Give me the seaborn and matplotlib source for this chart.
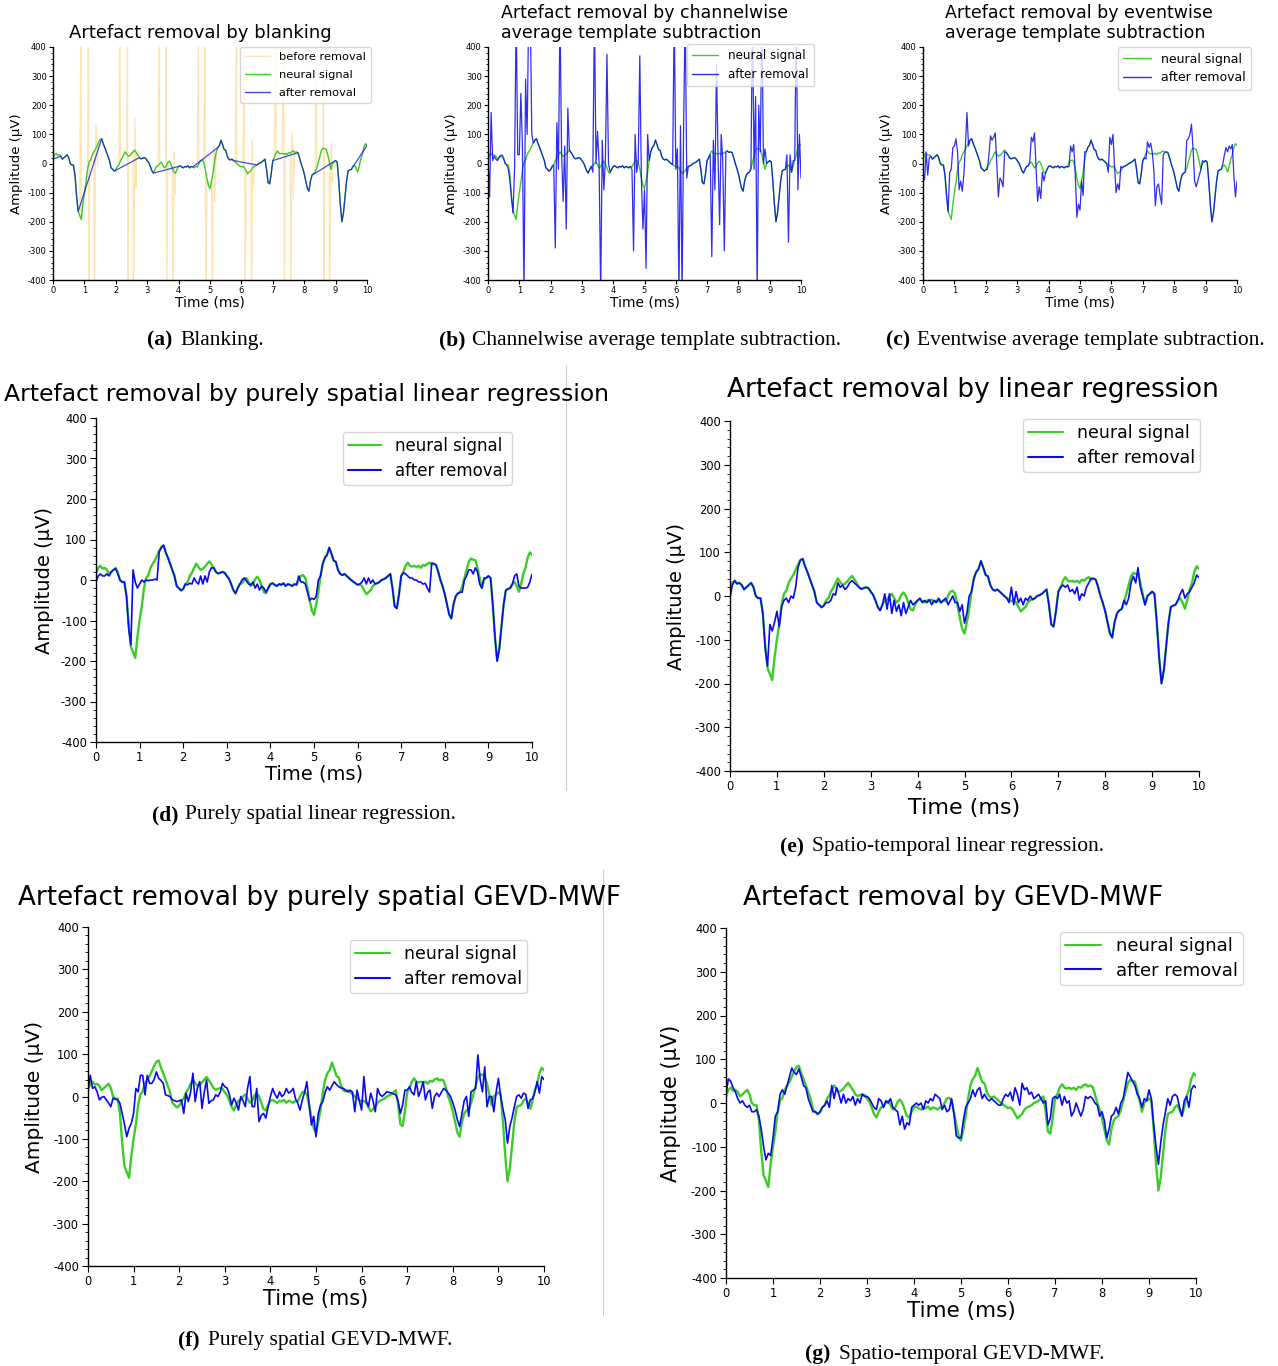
import numpy as np
import seaborn as sns
import matplotlib.pyplot as plt
from matplotlib.ticker import MultipleLocator
from matplotlib.lines import Line2D

# neural signal (µV), one sample every 0.05 ms from 0 to 10 ms
neural = [
    15, 30, 35, 28, 30, 25, 15, 20, 25, 30, 20, 0, -5, -5, -40, -110, -165, -178, -192, -140,
    -100, -65, -20, 5, 12, 30, 40, 48, 60, 72, 82, 85, 68, 55, 40, 25, 10, -15, -20, -26,
    -22, -10, -5, 10, 18, 30, 40, 32, 25, 28, 33, 40, 46, 38, 30, 20, 16, 18, 20, 18,
    10, 3, -10, -25, -33, -20, -10, -8, 0, 5, -5, -15, -10, 2, 8, 0, -15, -30, -33, -20,
    -10, -8, -12, -15, -10, -12, -8, -15, -10, -12, -15, -10, -12, 0, 10, 12, 5, -20, -50, -75,
    -86, -60, -30, 10, 40, 55, 62, 80, 65, 48, 45, 25, 15, 12, 15, 10, 5, 0, -4, -8,
    -12, -10, -15, -25, -35, -30, -25, -15, -10, -8, -5, 0, 2, 5, 10, 15, -20, -65, -70, -35,
    10, 20, 35, 43, 35, 33, 35, 32, 35, 30, 37, 35, 40, 43, 38, 40, 37, 20, 0, -16,
    -35, -60, -85, -95, -60, -40, -33, -30, -16, 5, 25, 45, 53, 50, 49, 30, 5, -20, 0, 5,
    10, 5, -60, -140, -200, -170, -115, -60, -25, -22, -20, -10, -5, -15, -29, -10, 15, 30, 55, 68,
    62,
]

# (a) blanking: time windows (ms) that are cut out and bridged
blank_windows = [(0.0, 0.25), (0.82, 1.52), (1.97, 2.72), (3.22, 3.98), (4.48, 5.22),
                 (5.78, 6.48), (7.02, 7.76), (8.28, 8.98), (9.52, 10.0)]

# (a) stimulation artefact pulses in the recording before removal
art_first = [0.89, 2.13, 3.39, 4.63, 5.85, 7.10, 8.37]
art_second = [1.13, 2.37, 3.60, 4.85, 6.10, 7.35, 8.61]
art_third = [1.32, 2.56, 3.83, 5.08, 6.33, 7.57, 8.80]
art_tail = [1.37, 2.61, 3.86, 5.11, 6.35, 7.61, 8.86]
art_tail_hi = [135, 155, 40, 65, 80, 105, 70]
art_tail_lo = [-10, -80, -105, -130, -80, -120, -65]
art_peak = 600

# (b) channelwise average template subtraction, after removal
after_b = [
    20, -115, 175, 10, 25, 15, 10, 20, 28, 25, 15, 0, -5, -20, -60, -120, -170, -10, 520, 30,
    30, 240, 60, -450, 290, 100, 520, 520, 100, 70, 80, 85, 68, 55, 40, 25, 10, -15, -20, -26,
    -22, -10, -5, -290, 140, -20, 520, 40, -130, 60, -225, 190, 46, 38, 30, 20, 16, 18, 20, 18,
    10, 3, -10, -25, -33, -20, -10, -30, 520, 0, 110, 0, -450, 80, -90, 10, 375, 0, -30, -20,
    -10, -8, -12, -15, -10, -12, -8, -15, -10, -12, -15, -10, -20, -300, 100, -30, 10, 370, -50, -225,
    -90, -360, 100, 10, 40, 55, 62, 80, 65, 48, 45, 25, 15, 12, 15, 10, 5, 0, -4, 520,
    -20, 50, -450, 130, -450, 130, 520, -50, -10, -8, -5, 0, 2, 5, 10, 15, -20, -65, -70, -35,
    10, 20, 30, -320, 80, -90, 340, 20, -210, 100, 10, -300, 40, 43, 38, 40, 37, 20, 0, -16,
    -35, -60, -85, -95, -60, -40, -33, -30, -20, 520, -20, 230, -450, 200, 40, 520, 0, 50, 0, 5,
    10, 5, -60, -140, -200, -170, -115, -60, -25, -22, -20, 30, -270, 30, -30, 10, 10, 520, -90, 100,
    -50,
]

# (c) eventwise average template subtraction, after removal
after_c = [
    -60, -55, 40, -40, 20, 25, 15, 20, 25, 30, 20, 0, -5, -5, -40, -110, -165, -30, -20, 55,
    60, 85, 40, -90, -60, -95, -40, 60, 175, 60, 80, 85, 68, 55, 40, 25, 10, -15, -20, -26,
    -22, -20, 30, 95, 80, 90, 105, 0, -115, -50, -60, -80, 40, 38, 30, 20, 16, 18, 20, 18,
    10, 3, -10, -25, -33, -20, -10, -8, 5, 90, 75, 105, -10, -130, -80, -120, -30, -60, -33, -20,
    -10, -8, -12, -15, -10, -12, -8, -15, -10, -12, -15, -10, -12, -10, 60, 40, 65, -40, -185, -140,
    -160, -60, -110, 40, 40, 55, 62, 80, 65, 48, 45, 25, 15, 12, 15, 10, 5, 0, -30, 90,
    65, 100, -10, -100, -70, -90, -10, -15, -10, -8, -5, 0, 2, 5, 10, 15, -20, -65, -70, -35,
    10, 20, 15, 75, 55, 70, 40, -20, -145, -80, -70, -110, -140, 30, 38, 40, 37, 20, 0, -16,
    -35, -60, -85, -95, -60, -40, -33, -30, 80, 85, 100, 135, 50, -60, -80, -60, -40, -20, 10, 5,
    10, 5, -60, -140, -200, -170, -115, -60, -25, -22, -20, 0, 30, 55, 40, 60, 50, 65, -40, -115,
    -60,
]

# (d) purely spatial linear regression, after removal
after_d = [
    -5, 10, 15, 10, 10, 15, 10, 20, 25, 28, 15, 0, -5, -5, -40, -120, -160, 25, -5, -20,
    -10, 0, -5, 0, -2, 0, 0, 2, 0, 70, 80, 86, 68, 55, 40, 25, 10, -15, -20, -26,
    -22, -10, -12, -8, -10, 5, -5, -10, 10, -10, 10, -5, 20, 30, 30, 20, 16, 18, 20, 18,
    10, 3, -10, -25, -33, -20, -10, 0, 5, -2, -10, -12, -5, -20, -10, -25, -15, -20, -30, -20,
    -10, -8, -12, -15, -10, -12, -8, -15, -10, -12, -15, -10, -12, 10, -5, -5, -10, -30, -50, -45,
    -48, -40, 0, 10, 40, 55, 62, 80, 65, 48, 45, 25, 15, 12, 15, 10, 5, 0, -4, -8,
    -12, -10, -5, 5, -10, 5, -8, 0, -10, -8, -5, 0, 2, 5, 10, 15, -20, -65, -70, -35,
    10, 18, 15, 10, 5, 5, 0, 0, -5, -5, -10, -8, -20, -30, 42, 40, 37, 20, 0, -16,
    -35, -60, -85, -95, -60, -40, -33, -30, -30, 0, 10, 25, 25, 15, 30, 20, -10, -20, 5, 5,
    10, 5, -60, -140, -200, -170, -115, -60, -25, -22, -20, -10, 10, 15, -15, -20, -20, -20, -18, -5,
    14,
]

# (e) spatio-temporal linear regression, after removal
after_e = [
    -5, 25, 35, 28, 30, 25, 15, 20, 25, 30, 20, 0, -5, -5, -40, -120, -160, -65, -80, -60,
    -35, -70, -25, -10, -5, -15, 0, -5, 20, 65, 82, 85, 68, 55, 40, 25, 10, -15, -20, -26,
    -22, -15, -15, -10, 5, 2, 30, 20, 25, 15, 20, 30, 35, 30, 25, 20, 16, 18, 20, 18,
    10, 3, -10, -25, -33, -20, 5, -30, 5, -40, -10, -35, -20, -45, -15, -40, -25, -10, -20, -15,
    -10, -5, -15, -10, -15, -8, -20, -10, -15, -5, -15, -10, -5, -20, -10, 0, -15, -15, -35, -20,
    -62, -40, 0, 10, 40, 55, 62, 80, 65, 48, 45, 25, 15, 12, 15, 10, 5, 0, -5, -15,
    20, -20, 10, -15, -5, -20, -5, -10, 0, -8, -5, 0, 2, 5, 10, 15, -20, -65, -70, -35,
    10, 20, 25, 20, 25, 10, 15, 5, 20, -10, 5, 0, 20, 30, 40, 40, 37, 20, 0, -16,
    -35, -60, -85, -95, -60, -40, -33, -30, -10, -20, -5, 30, 45, 30, 65, 20, 0, -20, 0, 5,
    10, 5, -60, -140, -200, -170, -115, -60, -25, -22, -20, -10, 5, 15, -5, 5, 10, 20, 30, 48,
    42,
]

# (f) purely spatial GEVD-MWF, after removal
after_f = [
    15, 50, 19, 23, 11, -8, -2, 0, -8, -15, -24, -4, -6, -8, -16, -40, -65, -95, -75, -63,
    -40, 19, 11, 50, 50, 4, 50, 31, 31, 40, 58, 43, 38, 31, 4, 2, 0, -8, -10, -12,
    -10, -8, -40, 8, -12, 10, 55, -12, 20, 35, -28, 10, 39, -16, -10, -8, 4, 0, 10, 31,
    23, 20, 5, -20, -4, -15, -32, 0, -10, -24, 20, 47, -24, -24, 19, -59, -45, -40, -51, -24,
    0, 19, 5, -4, 11, 0, 5, 19, 8, 12, 19, -5, -16, -32, -8, 10, 35, -20, -67, -47,
    -95, -40, -20, -12, 10, 23, 15, 25, 35, 28, 23, 20, 19, 15, 11, 15, 10, -36, 15, -10,
    -32, 47, -10, -24, 8, -10, -36, 19, 5, 0, 5, 11, 10, 8, 6, 4, -10, -40, -20, 15,
    15, 23, 10, 4, 35, 0, 15, 35, -8, 10, 15, -28, 0, 8, 0, 10, 19, 15, 8, 0,
    -15, -32, -55, -71, -40, -10, 0, -47, 11, 15, 19, 98, 40, 11, 70, -24, 0, 0, -36, 10,
    43, 0, -30, -55, -110, -71, -50, -24, 0, 4, -4, 8, 5, -28, -8, -5, 11, 35, 8, 47,
    40,
]

# (g) spatio-temporal GEVD-MWF, after removal
after_g = [
    20, 55, 50, 35, 25, 10, 0, 5, -5, -10, -5, -20, -20, -15, -30, -60, -100, -130, -115, -120,
    -80, -30, -20, 20, 30, 20, 40, 60, 80, 70, 65, 78, 60, 40, 35, 10, -5, -20, -20, -25,
    -20, -10, -5, 5, -10, 40, 10, 35, 20, 0, 20, 0, 10, 5, 15, -5, 10, 0, 20, 15,
    15, 10, 0, -10, -15, 10, 5, -10, 5, 0, 10, -10, -15, -20, -50, -30, -60, -45, -50, -10,
    -5, 0, -5, 0, -15, 5, 0, 10, 5, 20, 15, 10, -15, -5, -20, -15, 10, -25, -75, -80,
    -80, -40, -10, 0, 10, 30, 15, 30, 35, 10, 20, 10, 5, 10, 5, 0, -5, -5, 10, 20,
    15, 25, 5, 35, 20, -5, 45, 30, 35, 20, 25, 10, 15, 20, 10, 0, 5, -50, -35, 10,
    15, 10, 20, -5, 15, 0, 5, -30, -20, 0, -15, -30, -15, 15, 10, 15, 10, 0, -5, -30,
    -20, -40, -80, -60, -30, -25, -10, -25, 0, 10, 40, 70, 60, 50, 40, 20, 10, -10, 10, 5,
    30, 10, -50, -100, -140, -90, -50, -20, 10, -5, 15, 20, 15, -10, -30, 5, 15, -10, 30, 40,
    35,
]

titles = {
    "a": "Artefact removal by blanking",
    "b": "Artefact removal by channelwise\naverage template subtraction",
    "c": "Artefact removal by eventwise\naverage template subtraction",
    "d": "Artefact removal by purely spatial linear regression",
    "e": "Artefact removal by linear regression",
    "f": "Artefact removal by purely spatial GEVD-MWF",
    "g": "Artefact removal by GEVD-MWF",
}
captions = {
    "a": "Blanking.",
    "b": "Channelwise average template subtraction.",
    "c": "Eventwise average template subtraction.",
    "d": "Purely spatial linear regression.",
    "e": "Spatio-temporal linear regression.",
    "f": "Purely spatial GEVD-MWF.",
    "g": "Spatio-temporal GEVD-MWF.",
}

sns.set_style("ticks")
plt.rcParams["font.family"] = ["DejaVu Sans"]
plt.rcParams["axes.unicode_minus"] = False
for k in ["text.color", "axes.labelcolor", "xtick.color", "ytick.color", "axes.edgecolor"]:
    plt.rcParams[k] = "black"

W, H = 1278, 1366
fig = plt.figure(figsize=(W / 100, H / 100), dpi=100)

GREEN = "#3ccc28"
BLUE = "#0a0af0"

# layout in pixels: axes box, title, labels, legend corner, caption
layout = {
    "a": dict(box=(53, 367, 47, 280), small=True, title=(200, 33, "center", 13),
              ylab=23, xlab=296, ylfs=9.5, xlfs=10, leg=(371, 47), legfs=8.2, lsp=0.7,
              capy=340, cap=(172, 180)),
    "b": dict(box=(488, 801, 47, 280), small=True, title=(501, 23, "left", 12.5),
              ylab=458, xlab=296, ylfs=9.5, xlfs=10, leg=(814, 44), legfs=8.6, lsp=0.45,
              capy=340, cap=(465, 472)),
    "c": dict(box=(923, 1237, 47, 280), small=True, title=(945, 23, "left", 12.5),
              ylab=893, xlab=296, ylfs=9.5, xlfs=10, leg=(1251, 47), legfs=9, lsp=0.45,
              capy=340, cap=(910, 917)),
    "d": dict(box=(96, 532, 418, 742), small=False, title=(307, 394, "center", 16.9),
              ylab=54, xlab=764, ylfs=14, xlfs=14, leg=(512, 432), legfs=12, lsp=0.4,
              capy=815, cap=(178, 185)),
    "e": dict(box=(730, 1199, 421, 771), small=False, title=(973, 390, "center", 19),
              ylab=686, xlab=798, ylfs=14, xlfs=16, leg=(1200, 419), legfs=12.5, lsp=0.4,
              capy=847, cap=(804, 812)),
    "f": dict(box=(88, 544, 927, 1266), small=False, title=(320, 898, "center", 18.8),
              ylab=44, xlab=1289, ylfs=14.5, xlfs=15, leg=(527, 940), legfs=12.5, lsp=0.4,
              capy=1340, cap=(200, 208)),
    "g": dict(box=(726, 1196, 928, 1278), small=False, title=(953, 898, "center", 19),
              ylab=681, xlab=1301, ylfs=15, xlfs=15.5, leg=(1243, 932), legfs=13, lsp=0.35,
              capy=1354, cap=(830, 839)),
}

t_n = np.linspace(0, 10, len(neural))
neural_arr = np.array(neural, dtype=float)

keep = np.ones(len(t_n), dtype=bool)
for s, e in blank_windows:
    keep &= ~((t_n > s + 1e-9) & (t_n < e - 1e-9))

spike_t, spike_v = [], []
for t1, t2, t3, t4, hi, lo in zip(art_first, art_second, art_third, art_tail, art_tail_hi, art_tail_lo):
    spike_t += [t1, t2, t2 + 0.02, t3, t4, t4 + 0.04]
    spike_v += [art_peak, art_peak, -art_peak, -art_peak, hi, lo]
before_t = np.concatenate([t_n, spike_t])
before_v = np.concatenate([neural_arr, spike_v])
order = np.argsort(before_t, kind="stable")
before_t, before_v = before_t[order], before_v[order]

after = {"b": after_b, "c": after_c, "d": after_d, "e": after_e, "f": after_f, "g": after_g}


def px_axes(x0, x1, y0, y1):
    return fig.add_axes([x0 / W, 1 - y1 / H, (x1 - x0) / W, (y1 - y0) / H])


for key, lay in layout.items():
    x0, x1, y0, y1 = lay["box"]
    ax = px_axes(x0, x1, y0, y1)
    small = lay["small"]
    lw_g = 1.0 if small else 1.7
    lw_b = 0.9 if small else 1.2

    if key == "a":
        sns.lineplot(x=before_t, y=before_v, ax=ax, color="orange", alpha=0.3, linewidth=0.9,
                     estimator=None, sort=False, label="before removal")
        sns.lineplot(x=t_n, y=neural_arr, ax=ax, color=GREEN, linewidth=lw_g,
                     estimator=None, sort=False, label="neural signal")
        sns.lineplot(x=t_n[keep], y=neural_arr[keep], ax=ax, color=BLUE, alpha=0.75, linewidth=lw_b,
                     estimator=None, sort=False, label="after removal")
    else:
        yb = np.array(after[key], dtype=float)
        tb = np.linspace(0, 10, len(yb))
        sns.lineplot(x=t_n, y=neural_arr, ax=ax, color=GREEN, linewidth=lw_g,
                     estimator=None, sort=False, label="neural signal")
        sns.lineplot(x=tb, y=yb, ax=ax, color=BLUE, alpha=0.85 if small else 1.0, linewidth=lw_b,
                     estimator=None, sort=False, label="after removal")

    ax.set_xlim(0, 10)
    ax.set_ylim(-400, 400)
    ax.xaxis.set_major_locator(MultipleLocator(1))
    ax.yaxis.set_major_locator(MultipleLocator(100))
    ax.yaxis.set_minor_locator(MultipleLocator(20))
    sns.despine(ax=ax)
    tfs = 6 if small else 8.3
    ax.tick_params(axis="both", which="major", labelsize=tfs, length=3 if small else 4,
                   width=0.8, pad=1.5 if small else 2.5)
    ax.tick_params(axis="y", which="minor", length=1.5 if small else 2.2, width=0.6)
    for sp in ax.spines.values():
        sp.set_linewidth(1.0)

    ax.set_xlabel("Time (ms)", fontsize=lay["xlfs"])
    ax.set_ylabel("Amplitude (µV)", fontsize=lay["ylfs"])
    ax.yaxis.set_label_coords((lay["ylab"] - x0) / (x1 - x0), 0.5)
    ax.xaxis.set_label_coords(0.5, -(lay["xlab"] - y1) / (y1 - y0))

    lx, ly = lay["leg"]
    leg = ax.legend(loc="upper right", bbox_to_anchor=(lx / W, 1 - ly / H),
                    bbox_transform=fig.transFigure, borderaxespad=0, fontsize=lay["legfs"],
                    frameon=True, fancybox=True, framealpha=0.8, edgecolor="#cccccc",
                    handlelength=2.2 if small else 2.0, borderpad=0.45 if small else 0.3,
                    labelspacing=lay["lsp"])
    for h in leg.get_lines():
        h.set_linewidth(1.0 if small else 1.5)

    tx, ty, ha, tsz = lay["title"]
    fig.text(tx / W, 1 - ty / H, titles[key], ha=ha, va="center", fontsize=tsz,
             multialignment="left", linespacing=1.15)

    cx_r, cx_l = lay["cap"]
    cy = 1 - lay["capy"] / H
    fig.text(cx_r / W, cy, f"({key})", ha="right", va="center", fontsize=15.5,
             family="Liberation Serif", weight="bold")
    fig.text(cx_l / W, cy, captions[key], ha="left", va="center", fontsize=15.5,
             family="Liberation Serif")

# thin separators between the lower panels
fig.add_artist(Line2D([566 / W, 566 / W], [1 - 365 / H, 1 - 790 / H], color="#cccccc", linewidth=0.8))
fig.add_artist(Line2D([603 / W, 603 / W], [1 - 870 / H, 1 - 1315 / H], color="#cccccc", linewidth=0.8))

fig.savefig("out.png", dpi=100)
